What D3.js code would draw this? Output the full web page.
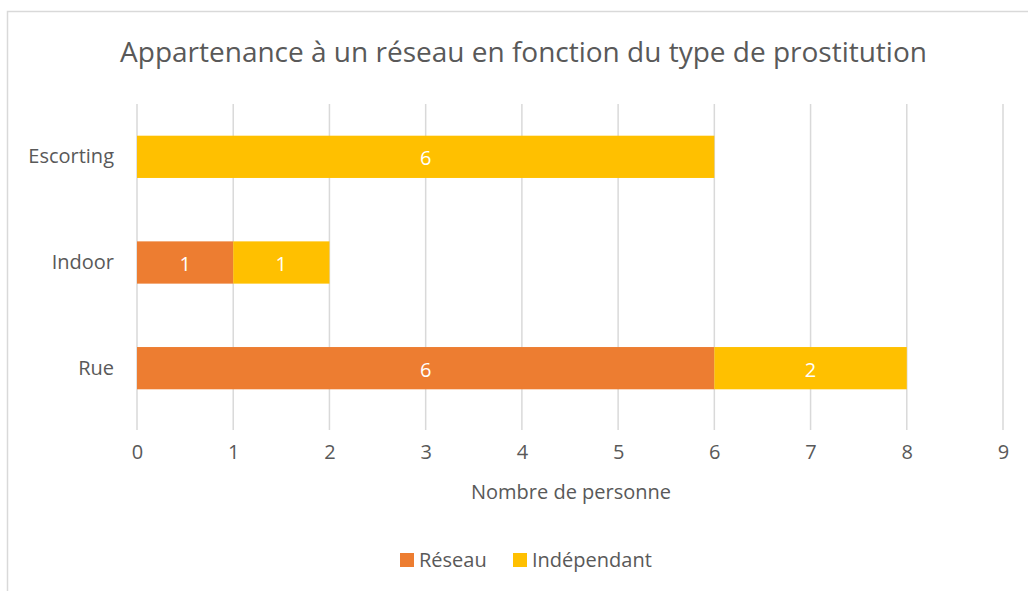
<!DOCTYPE html>
<html><head><meta charset="utf-8">
<script src="https://cdn.jsdelivr.net/npm/d3@7"></script>
<style>body{margin:0;background:#fff}svg{display:block}text{font-family:"Open Sans",sans-serif;fill:#595959}</style>
</head><body><svg id="c" width="1028" height="591"></svg>
<script>
const categories = ["Escorting","Indoor","Rue"];
const reseau = [0,1,6];
const independant = [6,1,2];
const seriesNames = ["Réseau","Indépendant"];
const xTicks = [0,1,2,3,4,5,6,7,8,9];
const title = "Appartenance à un réseau en fonction du type de prostitution";
const xTitle = "Nombre de personne";
const colors = ["#ED7D31","#FFC000"];

const svg = d3.select("#c");
svg.append("rect").attr("x",7.5).attr("y",11.5).attr("width",1030).attr("height",600)
  .attr("fill","#fff").attr("stroke","#D9D9D9").attr("stroke-width",1.5);

const x = d3.scaleLinear().domain([0,9]).range([137,1003]);
const y = d3.scaleBand().domain(categories).range([104,421]).paddingInner(0.6).paddingOuter(0.3);

svg.append("text").attr("x",523.5).attr("y",62).attr("text-anchor","middle")
  .style("font-size","28px").text(title);

const grid = svg.append("g");
grid.selectAll("line").data(xTicks).join("line")
  .attr("x1",d=>x(d)).attr("x2",d=>x(d)).attr("y1",104).attr("y2",430)
  .attr("stroke","#D9D9D9").attr("stroke-width",1.5);

const stacks = categories.map((c,i)=>[
  {c, s:0, x0:0, x1:reseau[i], v:reseau[i]},
  {c, s:1, x0:reseau[i], x1:reseau[i]+independant[i], v:independant[i]}
]).flat().filter(d=>d.v>0);

svg.append("g").selectAll("rect").data(stacks).join("rect")
  .attr("x",d=>x(d.x0)).attr("width",d=>x(d.x1)-x(d.x0))
  .attr("y",d=>y(d.c)).attr("height",y.bandwidth())
  .attr("fill",d=>colors[d.s]);

svg.append("g").selectAll("text").data(stacks).join("text")
  .attr("x",d=>(x(d.x0)+x(d.x1))/2).attr("y",d=>y(d.c)+y.bandwidth()/2+1)
  .attr("text-anchor","middle").attr("dominant-baseline","central")
  .style("fill","#fff").style("font-size","20px").text(d=>d.v);

const yAxis = svg.append("g").attr("transform","translate(127,0)").call(d3.axisLeft(y).tickSize(0).tickPadding(13));
yAxis.select(".domain").remove();
yAxis.selectAll("text").style("font-size","20px").style("fill","#595959").style("font-family","'Open Sans',sans-serif");

const xAxis = svg.append("g").attr("transform","translate(0,431)").call(d3.axisBottom(x).tickValues(xTicks).tickSize(0).tickPadding(14).tickFormat(d3.format("d")));
xAxis.select(".domain").remove();
xAxis.selectAll("text").style("font-size","20px").style("fill","#595959").style("font-family","'Open Sans',sans-serif");

svg.append("text").attr("x",571).attr("y",491).attr("dominant-baseline","central").attr("text-anchor","middle")
  .style("font-size","20px").text(xTitle);

const leg = svg.append("g");
const legX = [400,513];
seriesNames.forEach((n,i)=>{
  leg.append("rect").attr("x",legX[i]).attr("y",553).attr("width",14).attr("height",14).attr("fill",colors[i]);
  leg.append("text").attr("x",legX[i]+19).attr("y",559).attr("dominant-baseline","central")
    .style("font-size","20px").text(n);
});
</script></body></html>
